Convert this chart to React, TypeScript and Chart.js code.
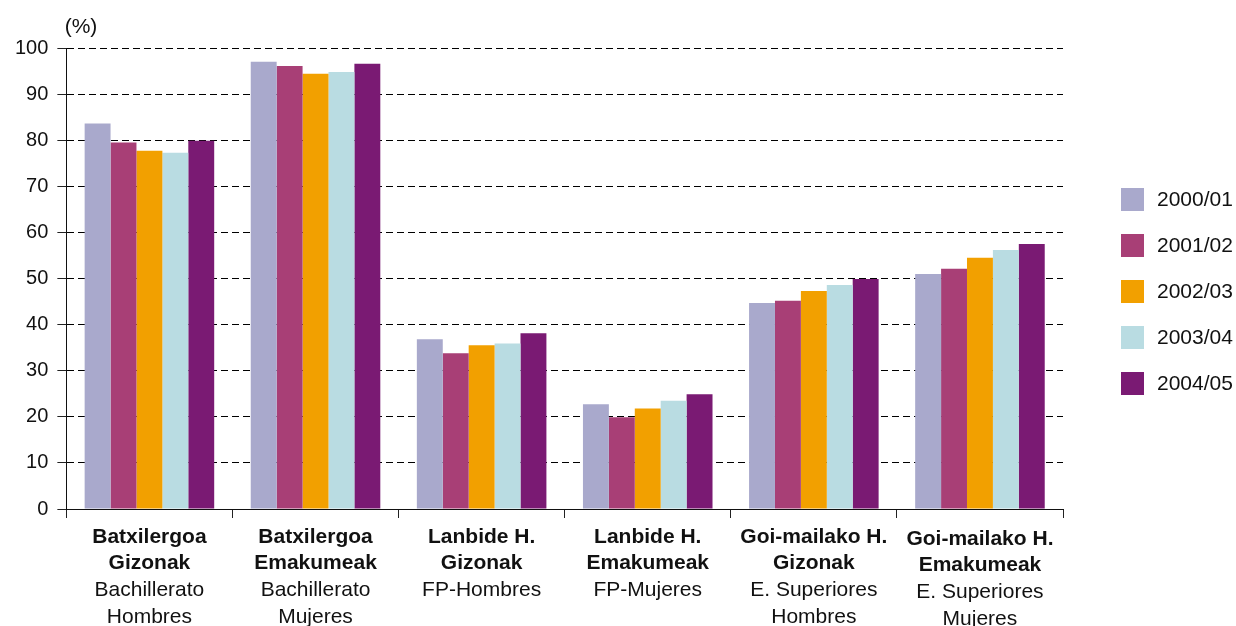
import React, { useEffect, useRef } from "react";
import { Chart, registerables } from "chart.js";

Chart.register(...registerables);

const categories = ["BG", "BE", "LG", "LE", "GG", "GE"];
const boldLines = [
  ["Batxilergoa", "Gizonak"],
  ["Batxilergoa", "Emakumeak"],
  ["Lanbide H.", "Gizonak"],
  ["Lanbide H.", "Emakumeak"],
  ["Goi-mailako H.", "Gizonak"],
  ["Goi-mailako H.", "Emakumeak"],
];
const normalLines = [
  ["Bachillerato", "Hombres"],
  ["Bachillerato", "Mujeres"],
  ["FP-Hombres"],
  ["FP-Mujeres"],
  ["E. Superiores", "Hombres"],
  ["E. Superiores", "Mujeres"],
];
const seriesLabels = ["2000/01", "2001/02", "2002/03", "2003/04", "2004/05"];
const seriesColors = ["#A9A9CC", "#A83F76", "#F2A000", "#B9DCE2", "#7A1A73"];
const s200001 = [83.6, 97.0, 36.8, 22.7, 44.7, 51.0];
const s200102 = [79.5, 96.1, 33.8, 19.9, 45.2, 52.1];
const s200203 = [77.7, 94.4, 35.5, 21.8, 47.3, 54.5];
const s200304 = [77.3, 94.8, 35.9, 23.5, 48.6, 56.2];
const s200405 = [79.9, 96.6, 38.1, 24.9, 49.9, 57.5];
const yMin = 0;
const yMax = 100;
const yStep = 10;
const unitLabel = "(%)";

const FONT = "'Liberation Sans', Arial, sans-serif";

export default function App() {
  const ref = useRef<HTMLCanvasElement>(null);
  useEffect(() => {
    const canvas = ref.current;
    if (!canvas) return;
    const seriesValues = [s200001, s200102, s200203, s200304, s200405];

    const extras = {
      id: "extras",
      afterDraw(chart: any) {
        const ctx = chart.ctx;
        const xs = chart.scales.x;
        ctx.save();
        ctx.fillStyle = "#111";
        ctx.textAlign = "center";
        ctx.textBaseline = "middle";
        const lineY0 = 537;
        const lh = 26.7;
        categories.forEach((_c, i) => {
          const x = xs.getPixelForValue(i);
          const lines: [string, boolean][] = [];
          boldLines[i].forEach((t) => lines.push([t, true]));
          normalLines[i].forEach((t) => lines.push([t, false]));
          const shift = i === 5 ? 2 : 0;
          lines.forEach(([t, b], k) => {
            ctx.font = (b ? "bold " : "") + "21px " + FONT;
            ctx.fillText(t, x, lineY0 + shift + k * lh);
          });
        });
        // unit label
        ctx.font = "21px " + FONT;
        ctx.fillText(unitLabel, 81, 27);
        // legend
        ctx.textAlign = "left";
        seriesLabels.forEach((l, i) => {
          const cy = 199.5 + i * 46;
          ctx.fillStyle = seriesColors[i];
          ctx.fillRect(1121, Math.round(cy - 11.5), 23, 23);
          ctx.fillStyle = "#111";
          ctx.font = "21px " + FONT;
          ctx.fillText(l, 1157, cy + 1);
        });
        ctx.restore();
      },
    };

    const chart = new Chart(canvas, {
      type: "bar",
      data: {
        labels: categories,
        datasets: seriesLabels.map((l, i) => ({
          label: l,
          data: seriesValues[i],
          backgroundColor: seriesColors[i],
          borderWidth: 0,
          categoryPercentage: 0.78,
          barPercentage: 1,
        })),
      },
      options: {
        animation: false,
        responsive: false,
        maintainAspectRatio: false,
        layout: { padding: { top: 48, left: 6, right: 173, bottom: 108 } },
        plugins: { legend: { display: false }, tooltip: { enabled: false } },
        scales: {
          x: {
            grid: {
              offset: true,
              drawOnChartArea: false,
              drawTicks: true,
              tickLength: 9,
              color: "#222",
            },
            border: { display: true, color: "#111", width: 1 },
            ticks: { display: false },
          },
          y: {
            min: yMin,
            max: yMax,
            ticks: {
              stepSize: yStep,
              color: "#111",
              font: { size: 20, family: FONT },
              padding: 9,
            },
            grid: {
              color: "#000",
              lineWidth: 1,
              tickBorderDash: [],
              tickLength: 9,
              tickColor: "#222",
            },
            border: { display: true, color: "#111", width: 1, dash: [7, 4] },
          },
        },
      },
      plugins: [extras],
    });
    return () => chart.destroy();
  }, []);
  return (
    <div style={{ position: "absolute", left: 0, top: 0, width: 1236, height: 626 }}>
      <canvas ref={ref} width={1236} height={626} style={{ width: 1236, height: 626 }} />
    </div>
  );
}
